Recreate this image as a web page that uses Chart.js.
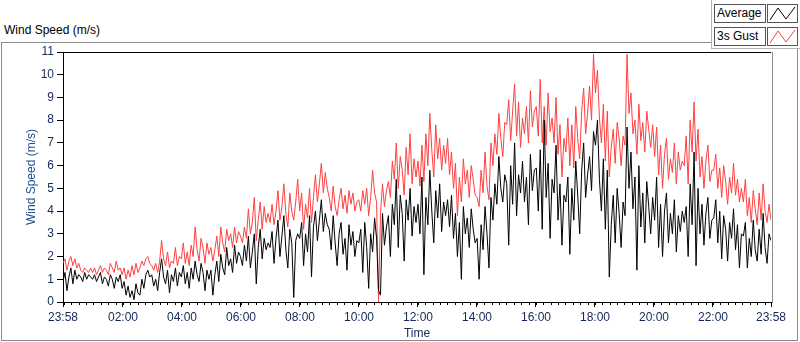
<!DOCTYPE html>
<html>
<head>
<meta charset="utf-8">
<script src="https://cdn.jsdelivr.net/npm/chart.js@4.4.1/dist/chart.umd.min.js"></script>
<style>
  html, body { margin: 0; padding: 0; background: #fff; }
  #wrap { position: relative; width: 800px; height: 342px; overflow: hidden; font-family: "Liberation Sans", Arial, sans-serif; font-size: 12px; }
  #frame { position: absolute; left: 1px; top: 42px; width: 795px; height: 297px; border: 1px solid #8c8c8c; }
  #title { position: absolute; left: 4px; top: 23px; color: #000; }
  #lgframe { position: absolute; left: 711px; top: -2px; width: 95px; height: 50px; border-left: 1px solid #b4b4b4; border-bottom: 1px solid #b4b4b4; background: #fff; }
  .lgtext { position: absolute; left: 714px; width: 48px; height: 17px; border: 1px solid #555; background: #fff; line-height: 17px; padding-left: 2px; box-sizing: content-box; }
  .lgicon { position: absolute; left: 767px; width: 29px; height: 17px; border: 1px solid #555; background: #fff; }
  canvas { position: absolute; left: 0; top: 0; }
</style>
</head>
<body>
<div id="wrap">
  <div id="frame"></div>
  <div id="title">Wind Speed (m/s)</div>
  <canvas id="c" width="800" height="342"></canvas>
  <div id="lgframe"></div>
  <div id="legend"></div>
</div>
<script>
// one sample every ~4 minutes, 23:58 -> 23:58 (15 per row = 1 hour)
const seriesNames = ['Average', '3s Gust'];
const seriesColors = ['#000000', '#ff4040'];

const tickMinutes = [0, 122, 242, 362, 482, 602, 722, 842, 962, 1082, 1202, 1322, 1440];
const tickLabels = ['23:58', '02:00', '04:00', '06:00', '08:00', '10:00', '12:00', '14:00', '16:00', '18:00', '20:00', '22:00', '23:58'];

const average = [
  0.9,1.3,0.5,1.1,1.5,0.8,1.4,1.0,1.2,1.1,0.9,1.3,1.0,1.2,1.1,
  1.0,1.2,0.9,1.1,1.3,0.8,1.1,1.0,0.7,1.2,1.0,0.6,1.1,0.9,1.2,
  0.6,0.9,0.3,0.7,0.2,0.5,0.1,0.8,0.4,0.3,1.0,0.6,1.2,1.4,1.1,
  1.2,0.7,1.0,0.5,1.3,1.9,1.1,0.8,1.4,0.4,1.2,0.9,1.5,0.7,1.3,
  1.1,1.6,0.8,1.3,0.6,1.5,1.0,1.8,1.2,0.9,1.7,1.3,0.5,1.4,1.0,
  1.4,0.3,1.2,1.8,0.9,2.1,1.5,1.2,2.4,1.6,1.9,1.3,2.5,1.7,2.2,
  2.0,1.6,2.5,1.8,2.9,1.5,2.2,3.0,0.8,2.4,3.2,1.9,2.8,2.3,2.6,
  2.4,3.1,1.7,2.8,3.6,2.0,2.9,3.8,2.3,1.5,3.2,2.6,0.2,2.7,3.0,
  2.8,3.5,1.6,3.0,2.2,3.8,1.1,3.3,4.0,2.7,3.6,4.5,3.1,3.9,3.4,
  3.2,2.3,3.8,2.6,1.6,3.0,3.5,2.1,2.8,1.4,3.4,2.5,3.1,2.0,2.7,
  2.6,3.2,1.3,3.5,2.4,0.6,3.0,2.2,3.7,2.8,0.5,0.3,3.9,2.5,3.3,
  3.8,2.0,4.3,3.4,5.4,2.4,4.7,3.9,1.8,4.5,3.6,5.0,2.9,4.2,3.5,
  4.3,3.0,5.5,1.2,4.6,3.4,5.8,4.0,2.6,4.9,3.7,5.2,3.1,4.4,3.8,
  4.5,3.3,4.7,2.8,3.9,2.0,3.5,1.0,4.2,3.0,3.7,2.4,4.1,3.2,2.6,
  2.8,1.0,3.4,2.3,4.2,3.0,1.5,4.6,3.6,5.2,4.3,6.4,5.0,4.4,5.6,
  5.2,2.5,6.0,4.3,7.0,3.8,5.6,4.8,6.2,4.4,5.5,3.4,6.5,4.9,5.8,
  5.9,4.0,6.7,3.2,8.0,4.6,6.1,2.8,5.4,4.8,6.9,3.6,5.2,2.5,4.7,
  4.4,5.5,2.1,5.0,3.6,6.2,4.7,3.0,5.8,7.0,4.6,5.6,6.4,4.9,7.5,
  6.9,8.0,5.4,4.0,6.3,3.2,5.8,1.1,3.4,4.7,2.6,5.0,3.9,2.4,4.4,
  3.8,7.7,5.0,6.6,4.1,5.5,1.4,6.0,3.3,4.8,2.6,5.3,4.2,3.0,4.6,
  3.6,5.5,2.4,4.3,2.0,4.0,4.8,2.6,3.9,3.0,4.5,2.2,3.8,3.1,4.0,
  3.5,4.2,2.0,5.2,3.4,6.6,1.6,5.0,3.0,4.3,2.5,3.9,4.6,2.8,3.6,
  3.7,4.5,2.6,4.0,1.9,3.8,3.2,1.8,3.5,2.8,4.1,2.3,3.4,1.5,3.0,
  2.9,3.5,1.5,2.8,2.0,3.6,2.3,1.8,3.2,2.1,3.9,2.4,1.7,3.0,2.7
];

const gust = [
  1.7,1.9,1.4,1.8,2.0,1.6,1.9,1.5,1.7,1.4,1.3,1.5,1.4,1.3,1.5,
  1.3,1.5,1.2,1.4,1.6,1.3,1.5,1.4,1.2,1.7,1.5,1.3,1.8,1.4,1.5,
  1.2,1.5,1.0,1.4,1.1,1.6,1.2,1.7,1.3,1.5,1.8,1.6,1.9,2.0,1.7,
  1.6,1.4,1.7,1.3,1.8,2.7,1.9,1.6,2.2,1.5,1.8,1.7,2.4,1.6,2.0,
  1.9,2.6,1.7,2.2,1.6,2.5,2.0,3.3,2.3,1.8,2.8,2.4,1.7,2.6,2.1,
  2.4,1.8,2.3,2.9,2.0,3.3,2.6,2.2,3.2,2.7,3.0,2.4,3.3,2.6,3.1,
  2.9,2.6,3.3,2.8,4.1,3.0,3.5,4.6,2.7,3.6,4.4,3.2,4.2,3.5,3.9,
  3.5,4.3,3.4,4.0,4.9,3.6,4.2,5.2,3.9,3.3,4.8,4.0,3.6,4.4,5.4,
  4.0,4.8,3.2,4.3,3.7,5.0,3.5,4.6,5.6,4.4,5.2,6.1,4.8,5.7,5.0,
  4.6,4.0,5.1,4.2,3.8,4.5,5.0,4.1,4.7,3.9,4.9,4.3,4.8,4.0,4.4,
  4.5,4.0,4.9,4.3,5.0,3.8,4.6,5.8,4.8,4.4,0.0,3.9,5.2,4.2,4.9,
  5.3,4.6,6.2,5.4,7.0,5.0,6.4,5.8,4.7,6.8,5.6,7.4,5.2,6.3,5.5,
  6.2,5.1,6.9,5.3,7.4,6.0,8.3,6.7,5.5,7.8,6.3,7.2,5.8,6.9,6.1,
  7.2,5.6,6.6,5.0,6.1,3.8,5.5,4.4,6.3,5.2,5.8,4.6,6.0,5.4,4.7,
  4.6,4.2,5.8,4.8,6.6,5.1,4.5,7.0,6.0,7.4,6.5,8.3,7.2,6.4,7.9,
  7.8,8.9,7.1,8.4,9.6,7.3,8.8,6.8,8.1,7.4,8.6,7.0,9.3,7.7,8.4,
  8.6,7.3,9.8,7.0,8.6,6.9,9.2,7.5,8.1,7.0,9.0,6.5,7.8,5.5,7.2,
  6.6,8.1,6.0,7.8,5.9,8.6,7.2,6.3,8.4,9.4,7.4,8.3,9.5,8.0,10.9,
  9.2,10.2,8.1,7.0,8.7,6.2,8.4,5.5,6.8,7.6,6.1,7.9,7.2,6.0,7.3,
  6.9,10.9,8.3,9.2,7.4,8.0,6.5,8.7,7.1,7.9,6.6,8.4,7.6,6.8,7.8,
  6.4,7.7,5.6,6.9,5.0,6.5,7.2,5.4,6.3,5.7,7.0,5.2,6.6,5.8,6.2,
  6.0,7.3,5.2,8.0,6.6,8.8,6.2,7.6,5.5,6.4,5.0,6.2,6.9,5.3,5.8,
  5.8,6.5,5.0,5.9,4.6,6.0,5.3,4.3,5.5,4.8,6.1,4.7,5.4,4.4,5.0,
  4.4,5.4,3.8,4.6,3.5,4.9,4.1,3.4,4.8,3.6,5.2,4.0,3.5,4.3,3.6
];

const SPAN = 1440;
const toPoints = arr => arr.map((v, i) => ({ x: i * SPAN / (arr.length - 1), y: v }));

// legend boxes
const legend = document.getElementById('legend');
seriesNames.forEach((name, i) => {
  const top = 4 + i * 23;
  legend.insertAdjacentHTML('beforeend',
    `<div class="lgtext" style="top:${top}px">${name}</div>` +
    `<div class="lgicon" style="top:${top}px"><svg width="29" height="17">` +
    `<polyline points="2,15 10,3 18,14 27,2" fill="none" stroke="${seriesColors[i]}" stroke-width="1"/></svg></div>`);
});

const navy = '#14285a';
const font = { family: '"Liberation Sans", Arial, sans-serif', size: 12 };

const extras = {
  id: 'extras',
  afterDraw(chart) {
    const { ctx, chartArea: { left, right, top, bottom }, scales: { x } } = chart;
    ctx.save();
    ctx.lineWidth = 1;
    ctx.strokeStyle = '#000';
    ctx.beginPath();
    for (let m = 2; m < SPAN; m += 15) {
      const px = Math.round(x.getPixelForValue(m)) + 0.5;
      ctx.moveTo(px, bottom);
      ctx.lineTo(px, bottom + 3);
    }
    ctx.moveTo(left, top + 0.5);
    ctx.lineTo(right, top + 0.5);
    ctx.stroke();
    ctx.strokeStyle = '#8c8c8c';
    ctx.beginPath();
    ctx.moveTo(right + 1.5, top);
    ctx.lineTo(right + 1.5, bottom + 1);
    ctx.stroke();
    ctx.restore();
  }
};

new Chart(document.getElementById('c'), {
  type: 'line',
  data: {
    datasets: [
      { label: seriesNames[0], data: toPoints(average), borderColor: seriesColors[0], borderWidth: 1, pointRadius: 0, tension: 0, fill: false },
      { label: seriesNames[1], data: toPoints(gust), borderColor: seriesColors[1], borderWidth: 1, pointRadius: 0, tension: 0, fill: false },
    ],
  },
  options: {
    responsive: false,
    animation: false,
    layout: { padding: { top: 52, right: 29, left: 0, bottom: 0 } },
    plugins: { legend: { display: false }, tooltip: { enabled: false } },
    scales: {
      x: {
        type: 'linear',
        min: 0,
        max: SPAN,
        afterBuildTicks: s => { s.ticks = tickMinutes.map(v => ({ value: v })); },
        afterFit: s => { s.height = 40; },
        ticks: { color: navy, font, padding: 3, maxRotation: 0, autoSkip: false, callback: (v, i) => tickLabels[i] },
        grid: { drawOnChartArea: false, tickLength: 5, color: '#000' },
        border: { color: '#000' },
        title: { display: true, text: 'Time', color: navy, font, padding: { top: 0, bottom: 1 } },
      },
      y: {
        min: 0,
        max: 11,
        afterFit: s => { s.width = 63; },
        ticks: { stepSize: 1, color: navy, font, padding: 3 },
        grid: { drawOnChartArea: false, tickLength: 6, color: '#000' },
        border: { color: '#000' },
        title: { display: true, text: 'Wind Speed (m/s)', color: '#1f4f8f', font, padding: { top: 24, bottom: 0 } },
      },
    },
  },
  plugins: [extras],
});
</script>
</body>
</html>
